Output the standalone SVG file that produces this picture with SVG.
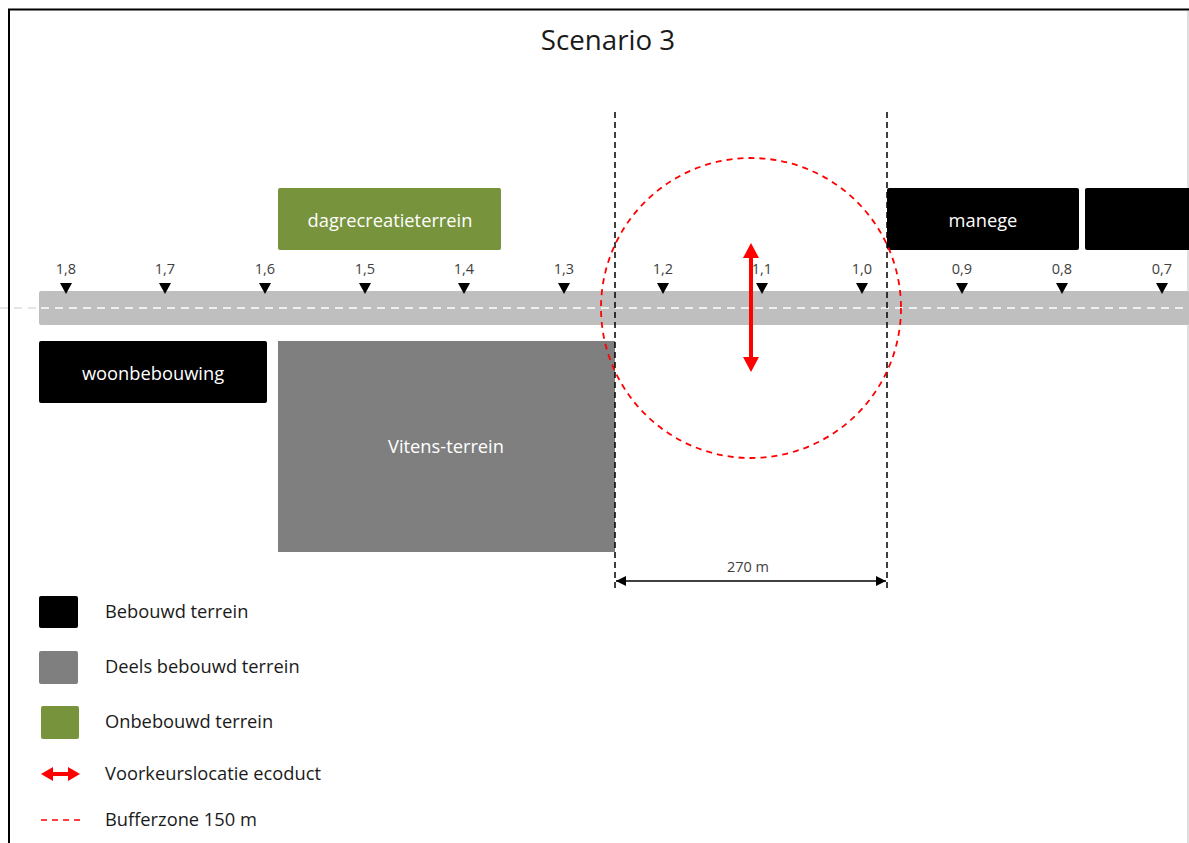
<svg xmlns="http://www.w3.org/2000/svg" width="1189" height="843" viewBox="0 0 1189 843">
<defs>
<style>
.t{font-family:"Open Sans",Lato,"Liberation Sans",sans-serif;}
.box{font-family:"Open Sans",Lato,"Liberation Sans",sans-serif;font-size:18.3px;fill:#ffffff;text-anchor:middle;}
.km{font-family:"Open Sans",Lato,"Liberation Sans",sans-serif;font-size:14.5px;fill:#404040;text-anchor:middle;}
.leg{font-family:"Open Sans",Lato,"Liberation Sans",sans-serif;font-size:18.3px;fill:#1a1a1a;}
.vd{stroke:#000;stroke-width:1.5;stroke-dasharray:6 4;fill:none;}
</style>
<marker id="dimA" viewBox="0 0 10 10" refX="10" refY="5" markerWidth="10" markerHeight="10" markerUnits="userSpaceOnUse" orient="auto-start-reverse">
<path d="M0,0 L10,5 L0,10 z" fill="#000"/>
</marker>
<path id="tri" d="M-6,0 L6,0 L0,11 z" fill="#000"/>
</defs>
<rect width="1189" height="843" fill="#fff"/>
<!-- frame -->
<path d="M9,843 L9,9.5 L1189,9.5" fill="none" stroke="#000" stroke-width="2"/>
<line x1="1188" y1="11" x2="1188" y2="843" stroke="#bdbdbd" stroke-width="1"/>
<text class="t" x="608" y="50" font-size="27.7" fill="#1a1a1a" text-anchor="middle">Scenario 3</text>

<!-- road -->
<g id="road">
<line x1="0" y1="308" x2="39" y2="308" stroke="#dddddd" stroke-width="1.5" stroke-dasharray="8 6"/>
<rect x="39" y="291" width="1150" height="34" rx="2" fill="#bfbfbf"/>
<line x1="41" y1="308" x2="1189" y2="308" stroke="#ffffff" stroke-width="1.5" stroke-dasharray="8 6"/>
</g>

<!-- km markers -->
<g id="markers">
<use href="#tri" x="66" y="283"/><text class="km" x="66" y="274">1,8</text>
<use href="#tri" x="165" y="283"/><text class="km" x="165" y="274">1,7</text>
<use href="#tri" x="265" y="283"/><text class="km" x="265" y="274">1,6</text>
<use href="#tri" x="365" y="283"/><text class="km" x="365" y="274">1,5</text>
<use href="#tri" x="464" y="283"/><text class="km" x="464" y="274">1,4</text>
<use href="#tri" x="564" y="283"/><text class="km" x="564" y="274">1,3</text>
<use href="#tri" x="663" y="283"/><text class="km" x="663" y="274">1,2</text>
<use href="#tri" x="762" y="283"/><text class="km" x="762" y="274">1,1</text>
<use href="#tri" x="862" y="283"/><text class="km" x="862" y="274">1,0</text>
<use href="#tri" x="962" y="283"/><text class="km" x="962" y="274">0,9</text>
<use href="#tri" x="1062" y="283"/><text class="km" x="1062" y="274">0,8</text>
<use href="#tri" x="1162" y="283"/><text class="km" x="1162" y="274">0,7</text>
</g>

<g id="dagrecreatieterrein">
<rect x="278" y="188" width="223" height="62" rx="2" fill="#77933c"/>
<text class="box" x="390" y="227">dagrecreatieterrein</text>
</g>
<g id="manege">
<rect x="887" y="188" width="192" height="62" rx="2" fill="#000"/>
<text class="box" x="983" y="227">manege</text>
</g>
<g id="bebouwd-rechts">
<rect x="1085" y="188" width="106" height="62" rx="2" fill="#000"/>
</g>
<g id="woonbebouwing">
<rect x="39" y="341" width="228" height="62" rx="2" fill="#000"/>
<text class="box" x="153" y="380">woonbebouwing</text>
</g>
<g id="vitens">
<rect x="278" y="341" width="337" height="211" fill="#7f7f7f"/>
<text class="box" x="446" y="453">Vitens-terrein</text>
</g>

<!-- connectors / annotations -->
<g id="connectors">
<line class="vd" x1="615" y1="112" x2="615" y2="590"/>
<line class="vd" x1="887" y1="112" x2="887" y2="590"/>
<circle cx="751" cy="308" r="150" fill="none" stroke="#ff0000" stroke-width="1.8" stroke-dasharray="6 5"/>
<g id="ecoduct">
<rect x="749" y="256" width="4" height="104" fill="#ff0000"/>
<path d="M751,243 L759,258 L743,258 z" fill="#ff0000"/>
<path d="M751,372 L759,357 L743,357 z" fill="#ff0000"/>
</g>
<line x1="616" y1="581" x2="886" y2="581" stroke="#000" stroke-width="1.5" marker-start="url(#dimA)" marker-end="url(#dimA)"/>
<text class="km" x="748" y="572" fill="#333">270 m</text>
</g>

<!-- legend -->
<g id="legend">
<rect x="39" y="596" width="39" height="32" rx="2" fill="#000"/>
<text class="leg" x="105" y="618">Bebouwd terrein</text>
<rect x="39" y="651" width="39" height="33" rx="2" fill="#7f7f7f"/>
<text class="leg" x="105" y="673">Deels bebouwd terrein</text>
<rect x="41" y="706" width="38" height="33" rx="2" fill="#77933c"/>
<text class="leg" x="105" y="728">Onbebouwd terrein</text>
<rect x="49" y="772" width="22" height="4" fill="#ff0000"/>
<path d="M41,774 L53,767 L53,781 z" fill="#ff0000"/>
<path d="M80,774 L68,767 L68,781 z" fill="#ff0000"/>
<text class="leg" x="105" y="780">Voorkeurslocatie ecoduct</text>
<line x1="41" y1="820" x2="80" y2="820" stroke="#ff0000" stroke-width="1.5" stroke-dasharray="6 5"/>
<text class="leg" x="105" y="826">Bufferzone 150 m</text>
</g>
</svg>
